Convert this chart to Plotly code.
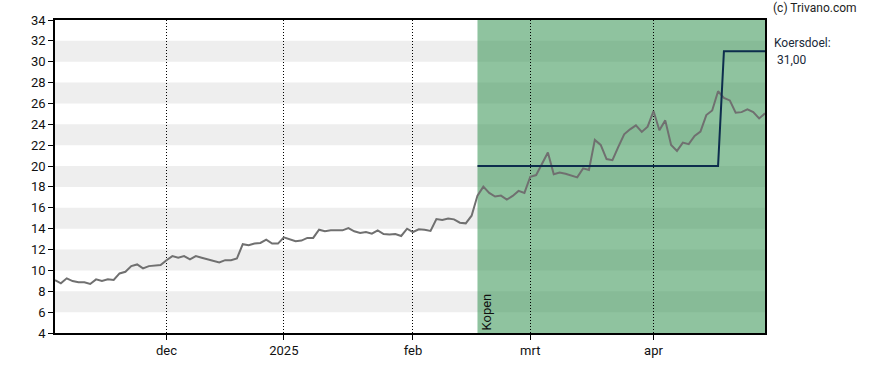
import pandas as pd
import plotly.graph_objects as go

# ---- data ----
holidays = ["2024-12-25", "2024-12-26", "2025-01-01", "2025-04-18", "2025-04-21"]
dates = pd.bdate_range("2024-11-05", "2025-04-30", freq="C", holidays=holidays)

price = [
    # nov
    9.08, 8.76, 9.24, 8.98, 8.86, 8.86, 8.70, 9.14, 8.98, 9.14, 9.08, 9.71, 9.87, 10.41, 10.57, 10.19, 10.41, 10.44, 10.51,
    # dec
    10.98, 11.37, 11.21, 11.37, 11.05, 11.37, 11.21, 11.05, 10.89, 10.76, 10.98, 10.98, 11.14, 12.51, 12.41, 12.57, 12.63, 12.95, 12.57, 12.57,
    # jan
    13.17, 12.98, 12.79, 12.86, 13.11, 13.11, 13.90, 13.75, 13.84, 13.84, 13.84, 14.06, 13.75, 13.59, 13.68, 13.52, 13.84, 13.49, 13.43, 13.49, 13.30, 14.00,
    # feb
    13.68, 13.94, 13.90, 13.78, 14.92, 14.83, 14.98, 14.89, 14.57, 14.51, 15.24, 17.17, 18.03, 17.43, 17.08, 17.17, 16.79, 17.14, 17.62, 17.43,
    # mrt
    18.98, 19.14, 20.19, 21.30, 19.21, 19.37, 19.27, 19.08, 18.92, 19.78, 19.62, 22.51, 22.03, 20.67, 20.57, 21.84, 23.05, 23.52, 23.90, 23.27, 23.78,
    # apr
    25.27, 23.43, 24.38, 22.03, 21.46, 22.25, 22.10, 22.89, 23.30, 24.89, 25.33, 27.17, 26.54, 26.29, 25.11, 25.17, 25.43, 25.17, 24.57, 25.05,
]

target_dates = ["2025-02-18", "2025-04-16", "2025-04-17", "2025-04-30"]
target_values = [20, 20, 31, 31]

signal_start = "2025-02-18"
signal_end = "2025-04-30"
signal_label = "Kopen"

tick_dates = ["2024-12-02", "2025-01-02", "2025-02-03", "2025-03-03", "2025-04-01"]
tick_labels = ["dec", "2025", "feb", "mrt", "apr"]

y_min, y_max = 4, 34
band_starts = [6, 10, 14, 18, 22, 26, 30]

# ---- figure ----
FONT = "Roboto"
fig = go.Figure()

fig.add_trace(go.Scatter(x=dates, y=price, mode="lines",
                         line=dict(color="#707070", width=2), hoverinfo="skip"))
fig.add_trace(go.Scatter(x=target_dates, y=target_values, mode="lines",
                         line=dict(color="#0d2d4d", width=2), hoverinfo="skip"))

shapes = []
for b in band_starts:
    shapes.append(dict(type="rect", xref="paper", yref="y", x0=0, x1=1, y0=b, y1=b + 2,
                       fillcolor="#eeeeee", line=dict(width=0), layer="below"))
shapes.append(dict(type="rect", xref="x", yref="paper", x0=signal_start, x1=signal_end, y0=0, y1=1,
                   fillcolor="rgba(40,140,70,0.52)", line=dict(width=0), layer="below"))
fig.update_layout(shapes=shapes)

annotations = [
    dict(text=signal_label, xref="x", yref="y", x=signal_start, y=y_min, textangle=-90,
         xanchor="left", yanchor="bottom", showarrow=False, xshift=0, yshift=1,
         font=dict(family=FONT, size=13, color="#111111")),
    dict(text="(c) Trivano.com", xref="paper", yref="paper", x=1, y=1.038,
         xanchor="left", yanchor="middle", showarrow=False, xshift=6,
         font=dict(family=FONT, size=12, color="#222222")),
    dict(text="Koersdoel:", xref="paper", yref="paper", x=1, y=0.927,
         xanchor="left", yanchor="middle", showarrow=False, xshift=7,
         font=dict(family=FONT, size=12, color="#1a2a3a")),
    dict(text=" 31,00", xref="paper", yref="paper", x=1, y=0.873,
         xanchor="left", yanchor="middle", showarrow=False, xshift=7,
         font=dict(family=FONT, size=12, color="#1a2a3a")),
]
fig.update_layout(annotations=annotations)

fig.update_xaxes(
    range=["2024-11-05", "2025-04-30"],
    rangebreaks=[dict(bounds=["sat", "mon"]), dict(values=holidays)],
    tickvals=tick_dates, ticktext=tick_labels,
    ticks="outside", ticklen=5, tickcolor="black",
    showgrid=True, gridcolor="black", griddash="1px,2px", gridwidth=1,
    showline=True, linecolor="black", linewidth=1.5, mirror=True,
    tickfont=dict(family=FONT, size=13, color="#111111"),
    zeroline=False,
)
fig.update_yaxes(
    range=[y_min, y_max], dtick=2, tick0=4,
    ticks="outside", ticklen=5, tickcolor="black",
    showgrid=False,
    showline=True, linecolor="black", linewidth=1.5, mirror=True,
    tickfont=dict(family=FONT, size=13, color="#111111"),
    zeroline=False,
)

fig.update_layout(
    width=888, height=370, autosize=False,
    margin=dict(l=55, r=123, t=20, b=35),
    paper_bgcolor="white", plot_bgcolor="white",
    showlegend=False,
    font=dict(family=FONT, size=13, color="#111111"),
)

fig.write_html("out.html", config={"displayModeBar": False},
               post_script="document.body.style.margin='0';")
